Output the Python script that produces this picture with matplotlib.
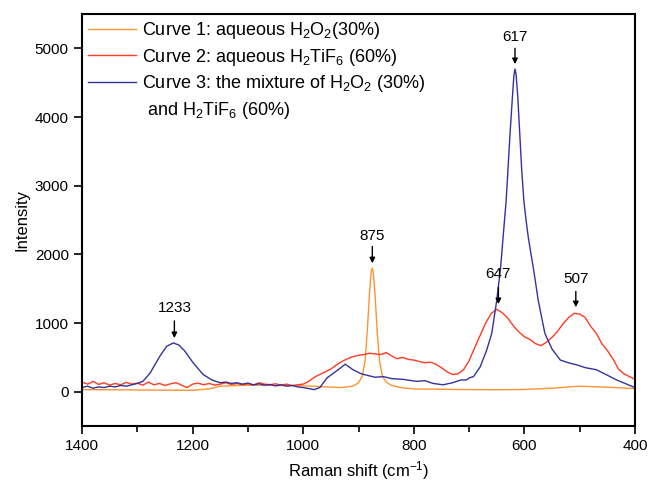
import matplotlib
matplotlib.use("Agg")
import matplotlib.pyplot as plt
from matplotlib.lines import Line2D
import numpy as np

plt.rcParams["font.family"] = ["Liberation Sans", "DejaVu Sans"]
plt.rcParams["mathtext.fontset"] = "custom"
plt.rcParams["mathtext.rm"] = "Liberation Sans"
plt.rcParams["mathtext.it"] = "Liberation Sans:italic"

# ----------------------------------------------------------------------------
# Data (Raman shift in cm-1, intensity in counts)
# ----------------------------------------------------------------------------

# Curve 1: aqueous H2O2 (30%)
shift_h2o2 = [1400, 1350, 1300, 1250, 1200, 1170, 1150, 1100, 1050, 1000, 960, 930,
              910, 900, 893, 888, 884, 880, 877, 875, 873, 870, 866, 862, 857, 850,
              840, 820, 800, 750, 700, 650, 600, 550, 500, 450, 400]
int_h2o2 = [30, 28, 25, 22, 20, 40, 80, 95, 90, 85, 70, 60,
            80, 130, 230, 450, 900, 1450, 1750, 1800, 1720, 1400, 850, 450, 230, 140,
            90, 55, 40, 35, 30, 28, 32, 50, 80, 65, 45]

# Curve 2: aqueous H2TiF6 (60%)
shift_h2tif6 = list(range(1400, 399, -10))
int_h2tif6 = [140, 110, 150, 105, 130, 95, 120, 100, 135, 110,
              125, 95, 140, 100, 120, 90, 115, 130, 95, 60,
              110, 125, 100, 120, 95, 110, 130, 105, 120, 100,
              115, 95, 130, 110, 100, 115, 95, 110, 90, 100,
              110, 150, 210, 250, 290, 330, 390, 440, 480, 510,
              530, 540, 560, 550, 540, 570, 520, 480, 500, 470,
              460, 440, 420, 430, 400, 350, 290, 250, 260, 320,
              450, 640, 820, 1000, 1140, 1200, 1150, 1070, 960, 870,
              800, 760, 700, 670, 720, 790, 880, 990, 1080, 1140,
              1130, 1080, 950, 850, 700, 600, 480, 330, 260, 220,
              180]

# Curve 3: mixture of H2O2 (30%) and H2TiF6 (60%)
shift_mix = [1400, 1390, 1380, 1370, 1360, 1350, 1340, 1330, 1320, 1310, 1300,
             1290, 1277, 1259, 1247, 1235, 1225, 1215, 1199, 1181, 1165, 1150,
             1140, 1130, 1120, 1110, 1100, 1090, 1080, 1070, 1060, 1050, 1040,
             1030, 1020, 1010, 1000, 990, 980, 970, 957, 940, 924, 910, 895,
             880, 870, 855, 840, 820, 795, 780, 765, 747, 730, 715, 705, 700,
             692, 680, 668, 659, 650, 643, 638, 633, 626, 622, 619, 617, 615,
             612, 608, 605, 601, 597, 593, 588, 584, 580, 575, 563, 550, 535,
             520, 505, 490, 470, 450, 433, 415, 400]
int_mix = [60, 80, 50, 70, 60, 80, 70, 90, 80, 100, 120,
           150, 270, 520, 660, 710, 680, 600, 420, 250, 170, 130,
           140, 120, 130, 110, 125, 100, 115, 95, 105, 85, 100,
           80, 90, 70, 60, 45, 30, 60, 200, 300, 400, 320, 260,
           230, 210, 220, 190, 180, 150, 160, 120, 100, 130, 170, 170, 200,
           220, 360, 610, 850, 1330, 1810, 2300, 2780, 3750, 4250, 4600, 4700, 4620,
           4300, 3700, 3250, 2780, 2500, 2250, 2000, 1810, 1600, 1330, 850, 620, 460,
           420, 390, 350, 320, 240, 170, 110, 60]

labels = [
    "Curve 1: aqueous H$_2$O$_2$(30%)",
    "Curve 2: aqueous H$_2$TiF$_6$ (60%)",
    "Curve 3: the mixture of H$_2$O$_2$ (30%)",
    " and H$_2$TiF$_6$ (60%)",
]
colors = ["#FF9433", "#FF3B22", "#33339F"]

# peak markers: position, arrow tip, arrow tail, text baseline
peak_pos = [1233, 875, 647, 617, 507]
peak_tip = [780, 1870, 1275, 4770, 1230]
peak_tail = [1030, 2115, 1520, 5000, 1460]
peak_text = [1110, 2170, 1610, 5060, 1540]


def main():
    fig = plt.figure(figsize=(6.49, 4.90), dpi=100)
    ax = fig.add_axes([0.1264, 0.1306, 0.852, 0.8408])

    h1, = ax.plot(shift_h2o2, int_h2o2, color=colors[0], lw=1.0)
    h2, = ax.plot(shift_h2tif6, int_h2tif6, color=colors[1], lw=1.0)
    h3, = ax.plot(shift_mix, int_mix, color=colors[2], lw=1.0)
    # second line of the curve 3 label, no handle
    blank = Line2D([], [], color="none")

    for x, tip, tail, ty in zip(peak_pos, peak_tip, peak_tail, peak_text):
        ax.annotate("", xy=(x, tip), xytext=(x, tail),
                    arrowprops=dict(arrowstyle="-|>", color="k", lw=1.0,
                                    mutation_scale=8, shrinkA=0, shrinkB=0))
        ax.text(x, ty, str(x), ha="center", va="bottom", fontsize=11)

    ax.set_xlim(1400, 400)
    ax.set_ylim(-500, 5500)
    ax.set_xticks([1400, 1200, 1000, 800, 600, 400])
    ax.set_xticks(np.arange(400, 1401, 100), minor=True)
    ax.set_yticks([0, 1000, 2000, 3000, 4000, 5000])
    ax.tick_params(axis="both", which="major", direction="out", length=6,
                   width=1.2, labelsize=11, top=False, right=False)
    ax.tick_params(axis="x", which="minor", direction="out", length=4, width=1.2)
    for sp in ax.spines.values():
        sp.set_linewidth(1.5)

    ax.set_xlabel("Raman shift (cm$^{-1}$)", fontsize=12)
    ax.set_ylabel("Intensity", fontsize=12)

    ax.legend([h1, h2, h3, blank], labels, loc="upper left", frameon=False,
              fontsize=13, handlelength=2.65, handletextpad=0.3,
              labelspacing=0.3, borderaxespad=0.15, borderpad=0.2)

    fig.savefig("out.png", dpi=100)
    plt.close(fig)


if __name__ == "__main__":
    main()
